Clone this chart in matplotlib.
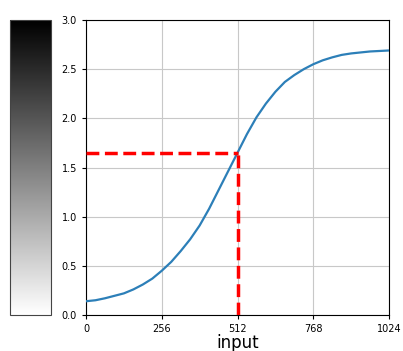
import matplotlib
matplotlib.use('Agg')
import matplotlib.pyplot as plt
import matplotlib.colorbar as mcolorbar

# curve
x_in = [0, 32, 64, 96, 128, 160, 192, 224, 256, 288, 320, 352, 384, 416, 448, 480,
        512, 544, 576, 608, 640, 672, 704, 736, 768, 800, 832, 864, 896, 928, 960, 992, 1024]
y_out = [0.14, 0.15, 0.17, 0.195, 0.22, 0.26, 0.31, 0.37, 0.45, 0.54, 0.65, 0.77, 0.91, 1.08, 1.27, 1.46,
         1.65, 1.84, 2.01, 2.15, 2.27, 2.37, 2.44, 2.50, 2.55, 2.59, 2.62, 2.645, 2.66, 2.67, 2.68, 2.685, 2.69]

mark_x = 512
mark_y = 1.65
x_ticks = [0, 256, 512, 768, 1024]
y_ticks = [0.0, 0.5, 1.0, 1.5, 2.0, 2.5, 3.0]

fig = plt.figure(figsize=(4.03, 3.51), dpi=100)
ax = fig.add_axes([86/403, 36/351, 303/403, 295/351])
cax = fig.add_axes([10/403, 36/351, 41/403, 295/351])

ax.plot(x_in, y_out, color='#2c7fb8', lw=1.6, zorder=3)
ax.plot([0, mark_x], [mark_y, mark_y], 'r--', lw=2.5, zorder=4)
ax.plot([mark_x, mark_x], [0, mark_y], 'r--', lw=2.5, zorder=4)

ax.set_xlim(0, 1024)
ax.set_ylim(0, 3.0)
ax.set_xticks(x_ticks)
ax.set_yticks(y_ticks)
ax.tick_params(labelsize=7, length=3)
ax.grid(True, color='#c8c8c8', lw=0.8)
ax.set_xlabel('input', fontsize=12, labelpad=0)

cb = mcolorbar.ColorbarBase(cax, cmap='gray_r', orientation='vertical')
cb.set_ticks([])
cb.outline.set_edgecolor('#444444')

plt.savefig('out.png', dpi=100)
plt.close()
